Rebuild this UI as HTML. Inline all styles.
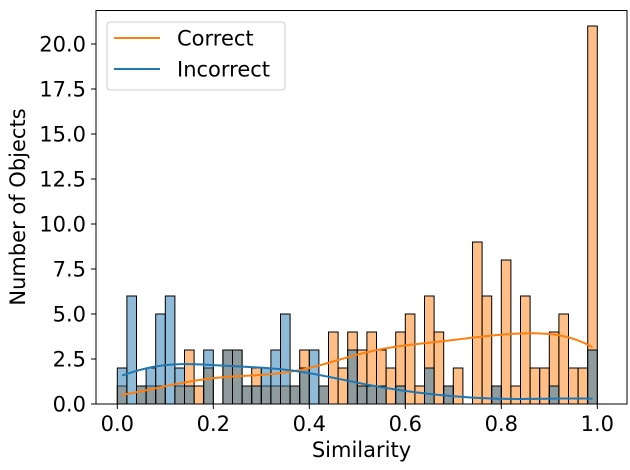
<!DOCTYPE html>
<html><head><meta charset="utf-8"><style>
html,body{margin:0;padding:0;background:#fff;}
svg{display:block;font-family:"DejaVu Sans","Liberation Sans",sans-serif;}
</style></head><body>
<svg id="chart" width="630" height="470"></svg>
<script>
const binStarts = [];
for (let i = 0; i < 50; i++) binStarts.push(i * 0.02);
const correctCounts = [1,0,1,1,1,0,1,3,1,2,0,3,3,1,2,1,1,1,1,3,0,1,4,2,4,3,4,3,2,4,5,1,6,4,1,2,0,9,6,1,8,1,6,2,2,4,5,2,2,21];
const incorrectCounts = [2,6,1,2,5,6,2,1,0,3,0,3,3,1,1,2,3,5,1,2,3,1,0,0,3,1,1,1,0,1,0,0,2,0,1,0,0,0,0,1,0,0,0,0,0,1,0,0,0,3];
const yTicks = [0,2.5,5,7.5,10,12.5,15,17.5,20];
const xTicks = [0,0.2,0.4,0.6,0.8,1.0];

const L=96,T=10.5,R=627,B=404;
const x0=117.3, pxPerUnitX=480, pxPerUnitY=18;
const sx=v=>x0+v*pxPerUnitX;
const sy=v=>B-v*pxPerUnitY;
const NS='http://www.w3.org/2000/svg';
const svg=document.getElementById('chart');
function mk(tag,attrs,parent){const e=document.createElementNS(NS,tag);for(const k in attrs)e.setAttribute(k,attrs[k]);(parent||svg).appendChild(e);return e;}

const bw=0.02;
const gC=mk('g',{});


const gI=mk('g',{});


binStarts.forEach((s,i)=>{
  if(correctCounts[i]>0){
    const r=mk('rect',{x:sx(s),y:sy(correctCounts[i]),width:bw*pxPerUnitX,height:correctCounts[i]*pxPerUnitY,fill:'#ff7f0e','fill-opacity':0.5,stroke:'#000','stroke-width':1},gC);
    
    
  }
  if(incorrectCounts[i]>0){
    const r=mk('rect',{x:sx(s),y:sy(incorrectCounts[i]),width:bw*pxPerUnitX,height:incorrectCounts[i]*pxPerUnitY,fill:'#1f77b4','fill-opacity':0.5,stroke:'#000','stroke-width':1},gI);
    
    
  }
});

function kde(counts,color,name){
  const pts=[];counts.forEach((c,i)=>{for(let k=0;k<c;k++)pts.push(binStarts[i]+bw/2);});
  const n=pts.length;const mean=pts.reduce((a,b)=>a+b,0)/n;
  const sd=Math.sqrt(pts.reduce((a,b)=>a+(b-mean)**2,0)/(n-1));
  const h=sd*Math.pow(n,-0.2);
  const lo=Math.min(...pts),hi=Math.max(...pts);
  let d='';
  for(let j=0;j<=200;j++){
    const x=lo+(hi-lo)*j/200;let s=0;
    pts.forEach(p=>{s+=Math.exp(-0.5*((x-p)/h)**2);});
    const dens=s/(n*h*Math.sqrt(2*Math.PI));
    const y=dens*n*bw;
    d+=(j?'L':'M')+sx(x).toFixed(2)+','+sy(y).toFixed(2);
  }
  const p=mk('path',{d:d,fill:'none',stroke:color,'stroke-width':2});
  
  
}
kde(correctCounts,'#ff7f0e','kde-correct');
kde(incorrectCounts,'#1f77b4','kde-incorrect');

const frame=mk('rect',{x:L,y:T,width:R-L,height:B-T,fill:'none',stroke:'#000','stroke-width':1});



yTicks.forEach(v=>{
  mk('line',{x1:L-5,x2:L,y1:sy(v),y2:sy(v),stroke:'#000'});
  const t=mk('text',{x:L-10,y:sy(v)+7.5,'text-anchor':'end','font-size':21,fill:'#000'});
  t.textContent=v.toFixed(1);
  
  
});
xTicks.forEach(v=>{
  mk('line',{x1:sx(v),x2:sx(v),y1:B,y2:B+5,stroke:'#000'});
  const t=mk('text',{x:sx(v),y:B+27,'text-anchor':'middle','font-size':21,fill:'#000'});
  t.textContent=v.toFixed(1);
  
  
});
const xt=mk('text',{x:(L+R)/2,y:457,'text-anchor':'middle','font-size':21,fill:'#000'});
xt.textContent='Similarity';


const yt=mk('text',{x:0,y:0,transform:'translate(25,207) rotate(-90)','text-anchor':'middle','font-size':21,fill:'#000'});
yt.textContent='Number of Objects';



const lg=mk('g',{});


mk('rect',{x:107,y:22,width:178,height:68,rx:3,fill:'#fff','fill-opacity':0.8,stroke:'#ccc'},lg);
[['Correct','#ff7f0e',38],['Incorrect','#1f77b4',69]].forEach(([lab,c,y])=>{
  mk('line',{x1:114,x2:160,y1:y,y2:y,stroke:c,'stroke-width':2},lg);
  const t=mk('text',{x:177,y:y+7.5,'font-size':21,fill:'#000'},lg);
  t.textContent=lab;
  
  
});
</script>
</body></html>
